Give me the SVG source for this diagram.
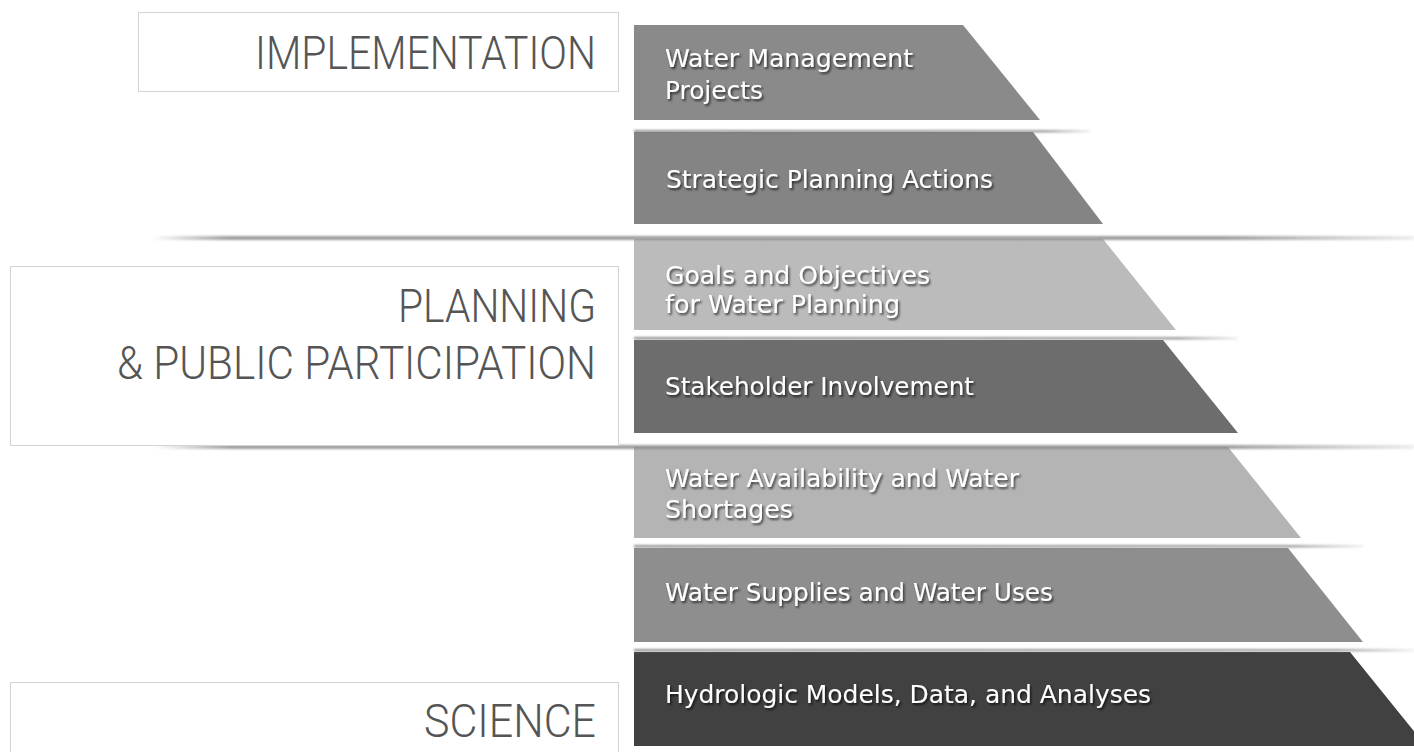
<svg xmlns="http://www.w3.org/2000/svg" width="1414" height="752" viewBox="0 0 1414 752">
  <defs>
    <filter id="ts" x="-5%" y="-30%" width="110%" height="160%">
      <feDropShadow dx="1.5" dy="2" stdDeviation="1.2" flood-color="#000" flood-opacity="0.65"/>
    </filter>
    <filter id="blur" x="-2%" y="-200%" width="104%" height="500%">
      <feGaussianBlur stdDeviation="1.3"/>
    </filter>
    <linearGradient id="bandFade" x1="0" x2="1" y1="0" y2="0">
      <stop offset="0" stop-color="#888" stop-opacity="0"/>
      <stop offset="0.06" stop-color="#888" stop-opacity="0.8"/>
      <stop offset="0.85" stop-color="#888" stop-opacity="0.8"/>
      <stop offset="1" stop-color="#888" stop-opacity="0.15"/>
    </linearGradient>
    <linearGradient id="sepFade" x1="0" x2="1" y1="0" y2="0">
      <stop offset="0" stop-color="#777" stop-opacity="0.8"/>
      <stop offset="0.9" stop-color="#777" stop-opacity="0.7"/>
      <stop offset="1" stop-color="#777" stop-opacity="0.1"/>
    </linearGradient>
  </defs>
  <style>
    .box { fill: #ffffff; stroke: #d4d4d4; stroke-width: 1; }
    .lbl { font-family: "Roboto", "Liberation Sans Narrow", sans-serif; font-weight: 300; font-size: 47px; fill: #555555; text-anchor: end; }
    .tt { font-family: "DejaVu Sans Condensed", "DejaVu Sans", sans-serif; font-stretch: condensed; font-size: 24.5px; fill: #ffffff; filter: url(#ts); }
  </style>
  <rect width="1414" height="752" fill="#ffffff"/>

  <g id="tier-water-management-projects">
    <polygon points="634,25 963,25 1040,120 634,120" fill="#8a8a8a"/>
    <text class="tt" x="665" y="67" textLength="248" lengthAdjust="spacingAndGlyphs">Water Management</text>
    <text class="tt" x="665" y="99" textLength="98" lengthAdjust="spacingAndGlyphs">Projects</text>
  </g>
  <g id="tier-strategic-planning-actions">
    <polygon points="634,132 1033,132 1103,224 634,224" fill="#848484"/>
    <text class="tt" x="666" y="188" textLength="327" lengthAdjust="spacingAndGlyphs">Strategic Planning Actions</text>
  </g>
  <g id="tier-goals-objectives">
    <polygon points="634,239 1103,239 1176,330 634,330" fill="#bbbbbb"/>
    <text class="tt" x="665" y="284" textLength="265" lengthAdjust="spacingAndGlyphs">Goals and Objectives</text>
    <text class="tt" x="665" y="313" textLength="235" lengthAdjust="spacingAndGlyphs">for Water Planning</text>
  </g>
  <g id="tier-stakeholder-involvement">
    <polygon points="634,340 1163,340 1238,433 634,433" fill="#6d6d6d"/>
    <text class="tt" x="665" y="395" textLength="309" lengthAdjust="spacingAndGlyphs">Stakeholder Involvement</text>
  </g>
  <g id="tier-water-availability">
    <polygon points="634,447 1228,447 1301,538 634,538" fill="#b4b4b4"/>
    <text class="tt" x="665" y="487" textLength="354" lengthAdjust="spacingAndGlyphs">Water Availability and Water</text>
    <text class="tt" x="665" y="518" textLength="128" lengthAdjust="spacingAndGlyphs">Shortages</text>
  </g>
  <g id="tier-water-supplies">
    <polygon points="634,548 1288,548 1363,642 634,642" fill="#8e8e8e"/>
    <text class="tt" x="665" y="601" textLength="388" lengthAdjust="spacingAndGlyphs">Water Supplies and Water Uses</text>
  </g>
  <g id="tier-hydrologic-models">
    <polygon points="634,652 1350,652 1426,746 634,746" fill="#414141"/>
    <text class="tt" x="665" y="703" textLength="486" lengthAdjust="spacingAndGlyphs">Hydrologic Models, Data, and Analyses</text>
  </g>

  <g id="connectors">
    <rect x="634" y="130" width="456" height="2.5" fill="url(#sepFade)" filter="url(#blur)"/>
    <rect x="152" y="236" width="1262" height="4" fill="url(#bandFade)" filter="url(#blur)"/>
    <rect x="634" y="337" width="604" height="2.5" fill="url(#sepFade)" filter="url(#blur)"/>
    <rect x="155" y="445" width="1259" height="4" fill="url(#bandFade)" filter="url(#blur)"/>
    <rect x="634" y="545" width="729" height="2.5" fill="url(#sepFade)" filter="url(#blur)"/>
    <rect x="634" y="649" width="780" height="2.5" fill="url(#sepFade)" filter="url(#blur)"/>
  </g>

  <g id="label-implementation">
    <rect class="box" x="138.5" y="12.5" width="480" height="79"/>
    <text class="lbl" x="596" y="69" textLength="341" lengthAdjust="spacingAndGlyphs">IMPLEMENTATION</text>
  </g>
  <g id="label-planning">
    <rect class="box" x="10.5" y="266.5" width="608" height="179"/>
    <text class="lbl" x="596" y="322" textLength="198" lengthAdjust="spacingAndGlyphs">PLANNING</text>
    <text class="lbl" x="596" y="379" textLength="479" lengthAdjust="spacingAndGlyphs">&amp; PUBLIC PARTICIPATION</text>
  </g>
  <g id="label-science">
    <rect class="box" x="10.5" y="682.5" width="608" height="80"/>
    <text class="lbl" x="596" y="737" textLength="172" lengthAdjust="spacingAndGlyphs">SCIENCE</text>
  </g>
</svg>
